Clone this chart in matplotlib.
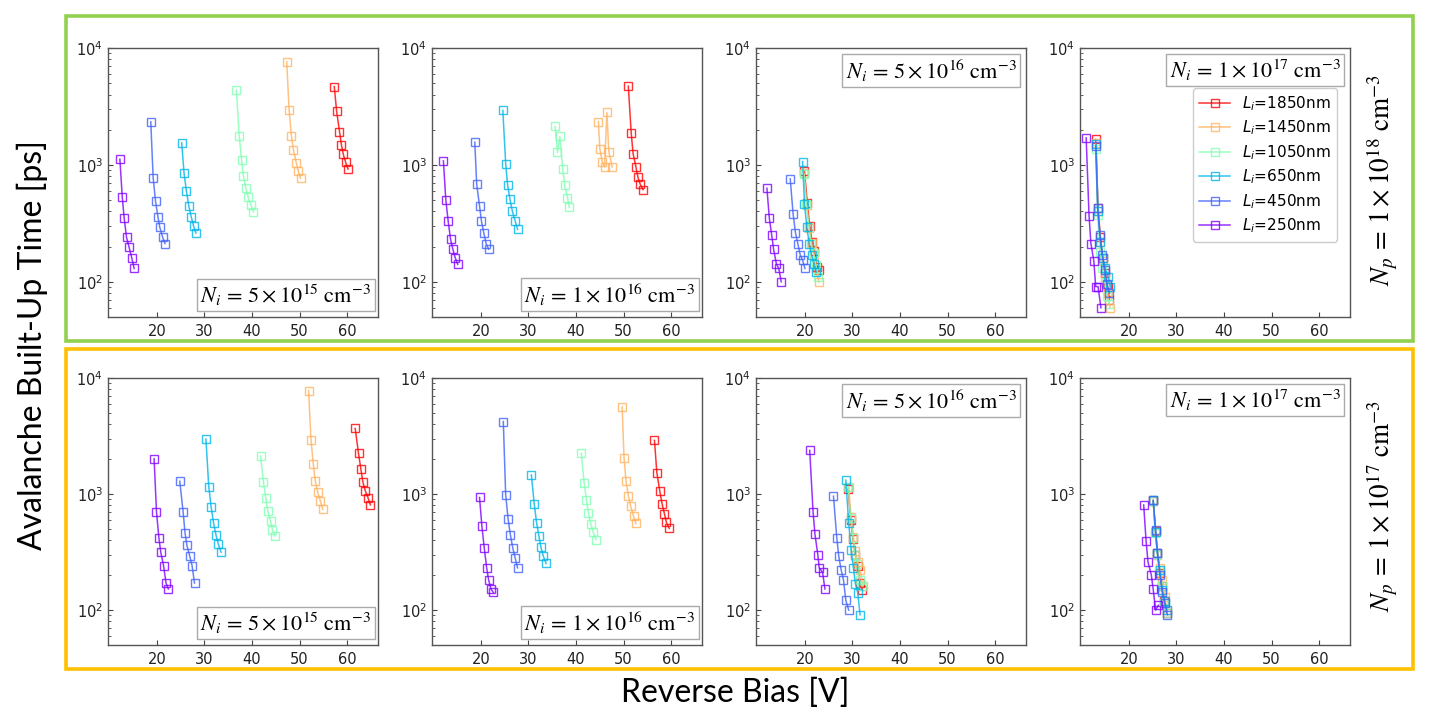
import numpy as np
import matplotlib
matplotlib.use("Agg")
import matplotlib.pyplot as plt
from matplotlib.patches import Rectangle

# ---------------- data ----------------
L_values = [1850, 1450, 1050, 650, 450, 250]
legend_labels = [r"$L_i$=%dnm" % L for L in L_values]
xticks = [20, 30, 40, 50, 60]
Ni_labels = [r"$N_i\,=\,5\times10^{15}\ \mathrm{cm}^{-3}$",
             r"$N_i\,=\,1\times10^{16}\ \mathrm{cm}^{-3}$",
             r"$N_i\,=\,5\times10^{16}\ \mathrm{cm}^{-3}$",
             r"$N_i\,=\,1\times10^{17}\ \mathrm{cm}^{-3}$"]
Np_labels = [r"$N_p\,=\,1\times10^{18}\ \mathrm{cm}^{-3}$",
             r"$N_p\,=\,1\times10^{17}\ \mathrm{cm}^{-3}$"]

# Np = 1e18 row
V_A = [[57.3, 57.8, 58.4, 58.8, 59.2, 59.7, 60.2],
       [47.3, 47.8, 48.3, 48.7, 49.3, 49.7, 50.2],
       [36.7, 37.3, 37.8, 38.2, 38.7, 39.2, 39.8, 40.3],
       [25.2, 25.7, 26.2, 26.7, 27.2, 27.7, 28.2],
       [18.7, 19.2, 19.7, 20.2, 20.6, 21.2, 21.7],
       [12.2, 12.7, 13.1, 13.6, 14.1, 14.7, 15.2]]
T_A = [[4670, 2870, 1930, 1490, 1230, 1050, 920],
       [7640, 2940, 1750, 1345, 1047, 894, 769],
       [4365, 1773, 1104, 800, 631, 528, 451, 395],
       [1545, 849, 594, 445, 361, 300, 261],
       [2337, 774, 488, 361, 292, 240, 212],
       [1119, 532, 351, 240, 200, 160, 130]]

V_B = [[51.0, 51.6, 52.0, 52.6, 53.0, 53.5, 54.1],
       [44.7, 45.0, 45.5, 46.0, 46.5, 46.9, 47.6],
       [35.6, 36.1, 36.6, 37.2, 37.6, 38.2, 38.6],
       [24.6, 25.2, 25.6, 26.1, 26.6, 27.2, 27.7],
       [18.7, 19.1, 19.7, 20.1, 20.6, 21.1, 21.6],
       [12.1, 12.6, 13.1, 13.6, 14.1, 14.6, 15.1]]
T_B = [[4720, 1890, 1250, 962, 789, 683, 615],
       [2350, 1380, 1069, 962, 2810, 1300, 962],
       [2132, 1277, 1750, 931, 670, 525, 433],
       [2924, 1026, 678, 508, 403, 331, 281],
       [1563, 687, 445, 331, 261, 212, 190],
       [1082, 505, 331, 231, 189, 160, 141]]

V_C = [[19.9, 20.5, 21.0, 21.5, 22.0, 22.5, 23.0],
       [19.8, 20.4, 20.9, 21.4, 21.9, 22.4, 22.9],
       [19.8, 20.3, 20.8, 21.3, 21.8, 22.3, 22.8],
       [19.5, 19.9, 20.4, 20.9, 21.4, 21.9, 22.4],
       [16.9, 17.5, 18.0, 18.5, 19.0, 19.5, 20.0],
       [12.0, 12.5, 13.0, 13.4, 14.0, 14.5, 15.0]]
T_C = [[880, 470, 300, 220, 185, 135, 125],
       [850, 450, 290, 215, 170, 130, 100],
       [830, 460, 295, 210, 175, 140, 110],
       [1069, 467, 292, 212, 169, 142, 121],
       [759, 383, 263, 212, 170, 153, 130],
       [631, 351, 251, 190, 142, 130, 100]]

V_D = [[13.0, 13.5, 14.0, 14.5, 15.0, 15.5, 15.9],
       [13.0, 13.5, 14.0, 14.5, 15.0, 15.5, 16.0],
       [13.0, 13.4, 13.9, 14.4, 14.9, 15.4, 15.8],
       [13.1, 13.5, 14.0, 14.5, 15.0, 15.6, 16.1],
       [13.0, 13.4, 13.9, 14.4, 14.9, 15.4, 15.9],
       [11.0, 11.6, 12.0, 12.6, 13.0, 13.5, 14.1]]
T_D = [[1650, 430, 240, 160, 120, 90, 70],
       [1550, 400, 220, 150, 110, 80, 60],
       [1380, 370, 180, 130, 100, 75, 65],
       [1500, 400, 220, 160, 130, 110, 90],
       [1450, 430, 250, 170, 125, 95, 80],
       [1703, 368, 212, 152, 91, 91, 60]]

# Np = 1e17 row
V_E = [[61.7, 62.4, 62.9, 63.3, 63.8, 64.4, 64.9],
       [51.9, 52.4, 52.9, 53.3, 53.8, 54.4, 54.9],
       [41.8, 42.4, 42.9, 43.3, 43.9, 44.3, 44.8],
       [30.3, 30.9, 31.4, 31.9, 32.4, 32.9, 33.5],
       [24.8, 25.5, 25.9, 26.3, 26.9, 27.4, 27.9],
       [19.4, 19.9, 20.4, 20.8, 21.4, 21.9, 22.4]]
T_E = [[3674, 2239, 1633, 1279, 1072, 927, 807],
       [7787, 2917, 1802, 1306, 1044, 863, 736],
       [2127, 1271, 920, 718, 581, 490, 435],
       [2976, 1154, 771, 566, 447, 371, 315],
       [1289, 703, 464, 361, 291, 240, 171],
       [2017, 703, 421, 315, 240, 171, 152]]

V_F = [[56.5, 57.0, 57.6, 58.1, 58.6, 59.0, 59.6],
       [49.7, 50.1, 50.5, 51.0, 51.5, 52.1, 52.6],
       [41.1, 41.7, 42.2, 42.6, 43.1, 43.6, 44.2],
       [30.6, 31.2, 31.7, 32.2, 32.6, 33.1, 33.7],
       [24.7, 25.2, 25.7, 26.2, 26.7, 27.2, 27.7],
       [19.7, 20.2, 20.7, 21.2, 21.6, 22.1, 22.6]]
T_F = [[2897, 1531, 1072, 825, 676, 571, 506],
       [5636, 2042, 1306, 970, 782, 641, 558],
       [2243, 1256, 885, 684, 555, 470, 404],
       [1461, 826, 566, 432, 350, 293, 252],
       [4217, 985, 612, 443, 341, 281, 231],
       [934, 526, 341, 231, 183, 152, 142]]

V_G = [[29.1, 29.6, 30.1, 30.6, 31.1, 31.6, 32.1],
       [29.2, 29.7, 30.2, 30.6, 31.1, 31.6, 32.2],
       [29.1, 29.6, 30.1, 30.6, 31.0, 31.5, 32.0],
       [28.6, 29.2, 29.7, 30.2, 30.6, 31.1, 31.6],
       [26.0, 26.7, 27.1, 27.6, 28.1, 28.6, 29.2],
       [21.0, 21.7, 22.1, 22.7, 23.0, 23.7, 24.2]]
T_G = [[1100, 600, 410, 300, 240, 170, 150],
       [1160, 640, 430, 320, 260, 220, 160],
       [1150, 620, 420, 300, 250, 180, 160],
       [1315, 562, 330, 230, 169, 141, 91],
       [958, 418, 293, 223, 182, 121, 100],
       [2378, 703, 452, 301, 231, 212, 152]]

V_H = [[25.1, 25.6, 26.0, 26.5, 26.9, 27.4, 27.9],
       [25.1, 25.5, 26.0, 26.5, 27.0, 27.5, 28.0],
       [25.1, 25.5, 26.0, 26.4, 26.9, 27.4, 27.9],
       [25.1, 25.6, 26.0, 26.5, 27.0, 27.5, 28.0],
       [25.1, 25.6, 26.0, 26.5, 27.0, 27.5, 28.1],
       [23.1, 23.6, 24.0, 24.7, 25.1, 25.6, 26.2]]
T_H = [[870, 480, 310, 210, 160, 120, 95],
       [880, 470, 300, 230, 180, 130, 100],
       [870, 460, 300, 220, 160, 115, 95],
       [880, 470, 310, 220, 150, 120, 100],
       [880, 487, 311, 202, 143, 116, 91],
       [805, 394, 260, 201, 151, 100, 110]]

V_rows = [[V_A, V_B, V_C, V_D], [V_E, V_F, V_G, V_H]]
T_rows = [[T_A, T_B, T_C, T_D], [T_E, T_F, T_G, T_H]]

# ---------------- figure ----------------
W, H = 1429, 720
fig = plt.figure(figsize=(W / 100, H / 100), dpi=100)

cmap = plt.cm.rainbow
Lmin, Lmax = min(L_values), max(L_values)
colors = [cmap((L - Lmin) / (Lmax - Lmin)) for L in L_values]

ax_left = [108, 432, 756, 1080]
ax_w = 270
row_top = [48, 378]
row_bot = [317, 645]

for r in range(2):
    for c in range(4):
        x0 = ax_left[c] / W
        y0 = 1 - row_bot[r] / H
        h = (row_bot[r] - row_top[r]) / H
        ax = fig.add_axes([x0, y0, ax_w / W, h])
        for k in range(6):
            ax.plot(V_rows[r][c][k], T_rows[r][c][k], '-s', color=colors[k],
                    mfc='none', mec=colors[k], ms=5.5, mew=1.0, lw=1.1,
                    alpha=0.8, label=legend_labels[k])
        ax.set_yscale('log')
        ax.set_ylim(50, 1e4)
        ax.set_xlim(9.7, 66.5)
        ax.set_xticks(xticks)
        ax.tick_params(axis='both', which='both', direction='in', labelsize=10.5,
                       labelcolor='#222222', color='#444444')
        ax.tick_params(axis='x', pad=5)
        for sp in ax.spines.values():
            sp.set_color('#555555')
            sp.set_linewidth(1.0)
        if c < 2:
            tx, ty, va = 0.975, 0.035, 'bottom'
        else:
            tx, ty, va = 0.965, 0.965, 'top'
        ax.text(tx, ty, Ni_labels[c], transform=ax.transAxes, ha='right', va=va,
                fontsize=16, math_fontfamily='stix',
                bbox=dict(boxstyle='square,pad=0.15', fc='white', ec='#aaaaaa', lw=1.0))
        if r == 0 and c == 3:
            ax.legend(loc='upper right', bbox_to_anchor=(0.952, 0.851),
                      borderaxespad=0, fontsize=11, handlelength=2.0,
                      labelspacing=0.38, framealpha=1, edgecolor='#cccccc')

# colored frames
fig.add_artist(Rectangle((66 / W, 1 - 341 / H), (1413 - 66) / W, (341 - 16) / H,
                         transform=fig.transFigure, fill=False,
                         ec='#92D050', lw=2.6))
fig.add_artist(Rectangle((66 / W, 1 - 669 / H), (1413 - 66) / W, (669 - 349) / H,
                         transform=fig.transFigure, fill=False,
                         ec='#FFC000', lw=2.6))

# global labels
fig.text(32 / W, 1 - 345 / H, "Avalanche Built-Up Time [ps]", rotation=90,
         ha='center', va='center', fontsize=23, family='Lato')
fig.text(735 / W, 1 - 693 / H, "Reverse Bias [V]", ha='center', va='center',
         fontsize=23, family='Lato')
fig.text(1383 / W, 1 - 180 / H, Np_labels[0], rotation=90, ha='center',
         va='center', fontsize=19.5, math_fontfamily='stix')
fig.text(1383 / W, 1 - 506 / H, Np_labels[1], rotation=90, ha='center',
         va='center', fontsize=19.5, math_fontfamily='stix')

fig.savefig("out.png", dpi=100)
